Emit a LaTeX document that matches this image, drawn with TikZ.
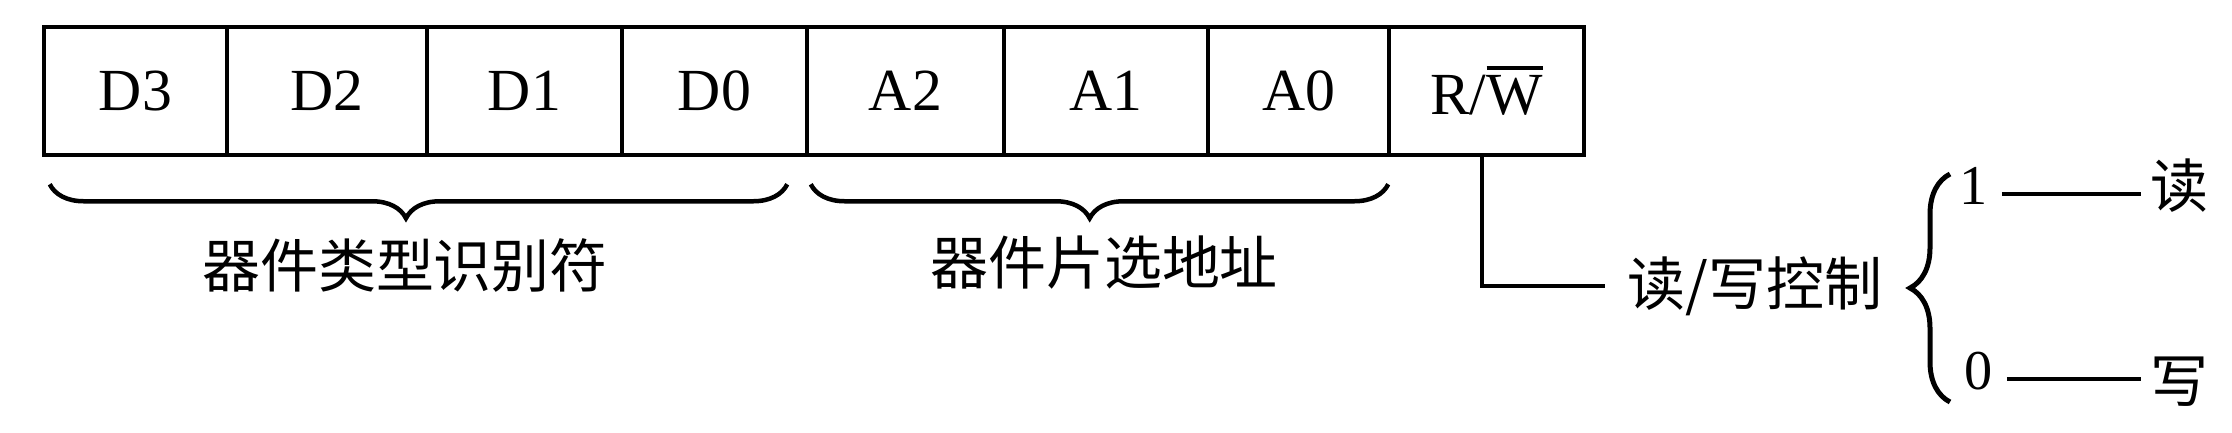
\documentclass[tikz,border=0pt]{standalone}
\usepackage{fontspec}
\setmainfont{Liberation Serif}
\newfontfamily\cjk{Noto Sans CJK SC}
\usetikzlibrary{positioning,calc,decorations.pathreplacing}
\newcommand\barW{\leavevmode\vbox{\hrule height 0.4mm\kern0.55mm\hbox{W}}}

\begin{document}
\begin{tikzpicture}[x=0.1mm, y=-0.1mm,
    cell/.style={rectangle, draw, line width=0.45mm, minimum height=12.8mm, inner sep=0pt,
      font=\fontsize{17}{20}\selectfont},
    cnlabel/.style={inner sep=0pt, font=\cjk\fontsize{16.5}{20}\selectfont},
    digit/.style={inner sep=0pt, font=\fontsize{16}{20}\selectfont},
    wire/.style={line width=0.45mm},
    brace/.style={decorate, line width=0.45mm, decoration={brace, amplitude=3.4mm, aspect=0.483}}
  ]
    \useasboundingbox (0,0) rectangle (2232,432);

    % the eight bits of the address byte
    \foreach \name/\xa/\xb/\txt in {d3/44/227/D3, d2/227/427/D2, d1/427/622/D1, d0/622/807/D0,
        a2/807/1004/A2, a1/1004/1208/A1, a0/1208/1389/A0, rw/1389/1584/{R/\barW}}
      \node[cell, minimum width={(\xb-\xa)*0.1mm}] (\name) at ({(\xa+\xb)/2},91) {\txt};

    % groups under the bits
    \draw[brace, decoration={mirror}] ($(d3.south west)+(8,27)$) -- ($(d0.south east)+(-22,27)$);
    \draw[brace, decoration={mirror}] ($(a2.south west)+(6,27)$) -- ($(a0.south east)+(-3,27)$);
    \node[cnlabel] (devtype) at (405,265) {器件类型识别符};
    \node[cnlabel] (devaddr) at (1104,263) {器件片选地址};

    % read/write bit
    \node[cnlabel, anchor=west] (rwctl) at (1627,286) {读/写控制};
    \draw[wire, shorten >=2.2mm] ([xshift=-0.45mm]rw.south) |- (rwctl.west);
    \draw[brace, line width=0.5mm, decoration={amplitude=4mm, aspect=0.5}] (1950,402) -- (1950,174);

    \node[digit, anchor=base] (one) at (1974,204) {1};
    \node[digit, anchor=base] (zero) at (1979,389) {0};
    \node[cnlabel] (rd) at (2179,186) {读};
    \node[cnlabel] (wr) at (2179,382) {写};
    \draw[wire, shorten <=1.3mm, shorten >=0.8mm] ([yshift=1mm]one.base east) -- ([yshift=1mm]one.base east -| rd.west);
    \draw[wire, shorten <=1.3mm, shorten >=0.8mm] ([yshift=1mm]zero.base east) -- ([yshift=1mm]zero.base east -| wr.west);
  \end{tikzpicture}
\end{document}
